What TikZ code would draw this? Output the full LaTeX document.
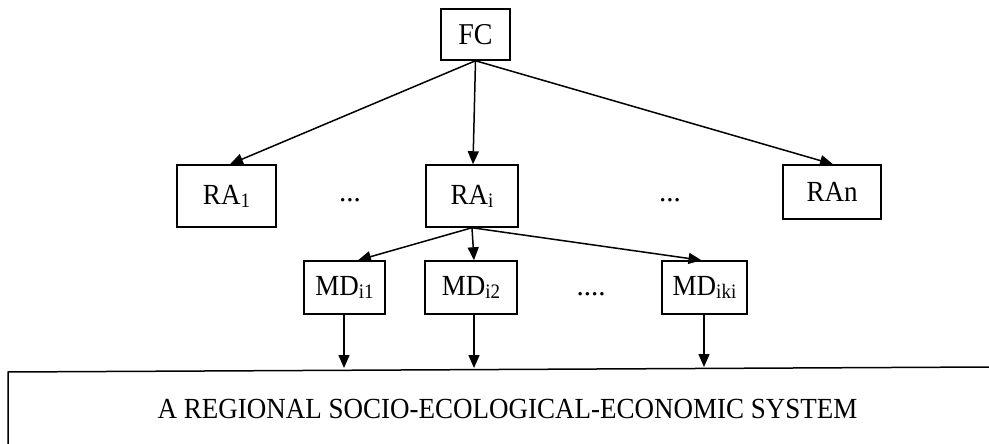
\documentclass[tikz,border=0pt]{standalone}
\usepackage{fontspec}
\setmainfont{Liberation Serif}
\usetikzlibrary{arrows.meta,calc}

% lowered index set a little smaller than the label
\newcommand{\idx}[1]{\raisebox{-3pt}{\fontsize{19}{20}\selectfont #1}}
% labels are set slightly tall and narrow
\newcommand{\tall}[1]{\scalebox{1}[1.08]{#1}}

\begin{document}
\begin{tikzpicture}[x=1pt,y=-1pt,
  box/.style={draw,line width=1.5pt,inner sep=0pt,minimum height=#1,font=\fontsize{27}{30}\selectfont},
  box/.default=53,
  link/.style={line width=1.5pt,-{Triangle[length=13pt,width=11pt]}},
  gap/.style={font=\fontsize{29}{30}\selectfont,anchor=base,inner sep=0pt}]
\useasboundingbox (0,0) rectangle (989,444);

% top coordinator
\node[box=51,minimum width=69,font=\fontsize{28}{30}\selectfont] (FC) at (475.5,34.5) {\tall{FC}};

% regional agents
\node[box=62,minimum width=99] (RA1) at (226.5,196) {\tall{RA\idx{1}}};
\node[box=62,minimum width=92] (RAi) at (472,196) {\tall{RA\idx{i}}};
\node[box=54,minimum width=98] (RAn) at (832,192) {\tall{RAn}};
\node[gap] (d1) at (350,201) {...};
\node[gap] (d2) at (670,201) {...};

% municipal districts
\node[box,minimum width=81] (MD1) at (344.5,287.5) {\tall{MD\idx{i1}}};
\node[box,minimum width=92] (MD2) at (471,287.5) {\tall{MD\idx{i2}}};
\node[box,minimum width=85] (MDk) at (704.5,287.5) {\tall{MD\idx{iki}}};
\node[gap] (d3) at (591,295) {....};

% regional system
\node[font=\fontsize{27}{30}\selectfont,anchor=base] (sys) at (507.5,418) {\tall{A REGIONAL SOCIO-ECOLOGICAL-ECONOMIC SYSTEM}};
\draw[line width=1.5pt] (989,367) -- (8,372) -- (8,444);
\coordinate (t1) at (344,368);
\coordinate (t2) at (474,368);
\coordinate (t3) at (704,367);

\draw[link] (FC.south) -- ([xshift=3.5]RA1.north);
\draw[link] (FC.south) -- ([xshift=1]RAi.north);
\draw[link] (FC.south) -- ([xshift=1]RAn.north);

\draw[link] (RAi.south) -- ([xshift=13.5]MD1.north);
\draw[link] (RAi.south) -- ([xshift=3]MD2.north);
\draw[link] (RAi.south) -- ([xshift=-3]MDk.north);

\draw[link] (MD1.south -| t1) -- (t1);
\draw[link] (MD2.south -| t2) -- (t2);
\draw[link] (MDk.south -| t3) -- (t3);
\end{tikzpicture}
\end{document}
